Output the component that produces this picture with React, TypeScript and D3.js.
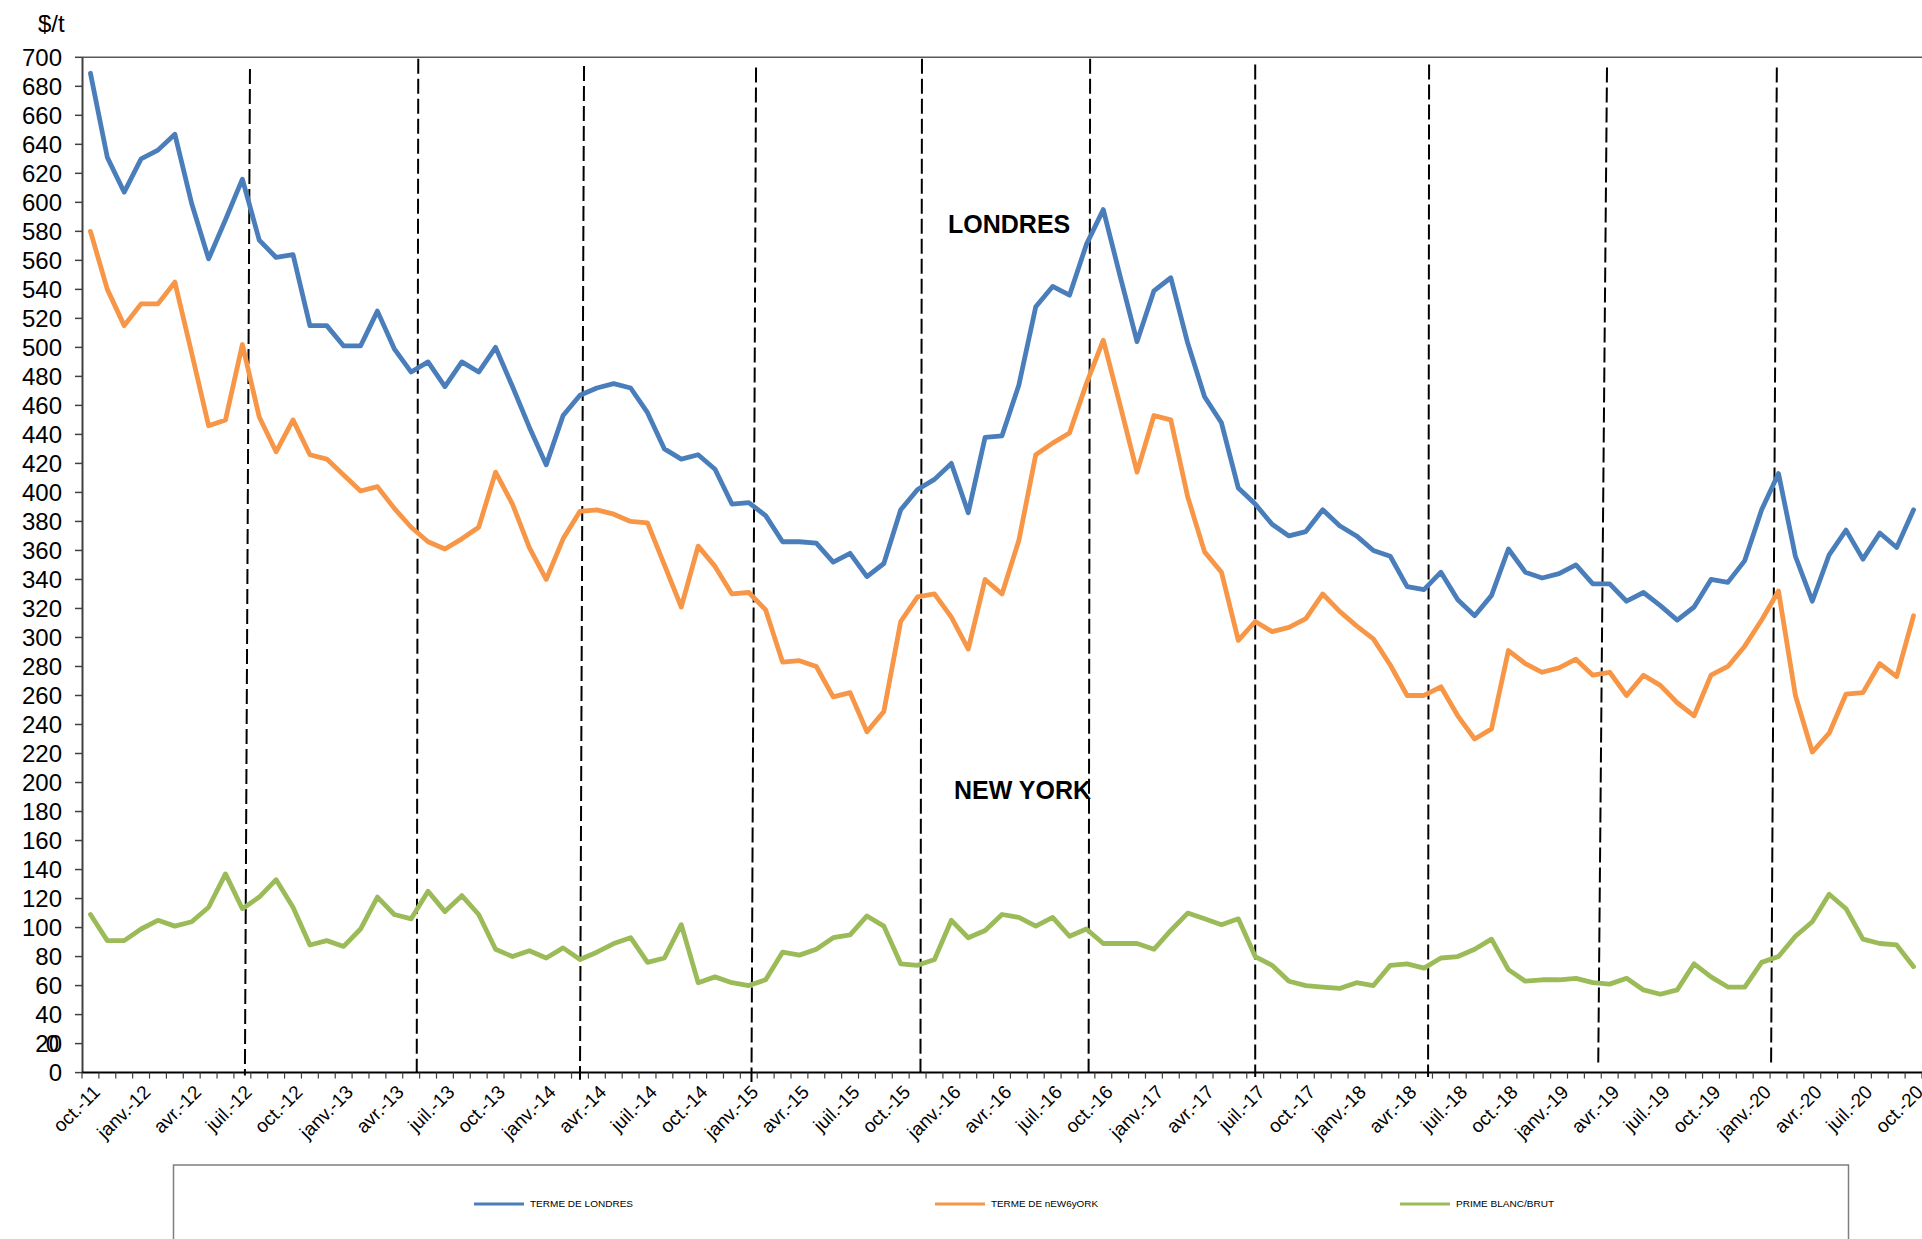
import React, { useEffect } from 'react';
import * as d3 from 'd3';

// ---------- DATA ----------
const monthNames = ['oct.', 'nov.', 'déc.', 'janv.', 'févr.', 'mars', 'avr.', 'mai', 'juin', 'juil.', 'août', 'sept.'];
const startYear = 11;
const monthCount = 109; // oct.-11 .. oct.-20
const categories: string[] = Array.from({ length: monthCount }, (_, i) => {
  const m = monthNames[i % 12];
  const yr = startYear + Math.floor((i + 9) / 12);
  return `${m}-${yr}`;
});

const tickLabels = [
  'oct.-11', 'janv.-12', 'avr.-12', 'juil.-12', 'oct.-12', 'janv.-13', 'avr.-13', 'juil.-13',
  'oct.-13', 'janv.-14', 'avr.-14', 'juil.-14', 'oct.-14', 'janv.-15', 'avr.-15', 'juil.-15',
  'oct.-15', 'janv.-16', 'avr.-16', 'juil.-16', 'oct.-16', 'janv.-17', 'avr.-17', 'juil.-17',
  'oct.-17', 'janv.-18', 'avr.-18', 'juil.-18', 'oct.-18', 'janv.-19', 'avr.-19', 'juil.-19',
  'oct.-19', 'janv.-20', 'avr.-20', 'juil.-20', 'oct.-20',
];

const yTicks = [0, 20, 40, 60, 80, 100, 120, 140, 160, 180, 200, 220, 240, 260, 280, 300, 320, 340,
  360, 380, 400, 420, 440, 460, 480, 500, 520, 540, 560, 580, 600, 620, 640, 660, 680, 700];

const londres = [
  689, 631, 607, 630, 636, 647, 599, 561, 588, 616, 574, 562, 564, 515, 515, 501, 501, 525, 499, 483,
  490, 473, 490, 483, 500, 473, 445, 419, 453, 467, 472, 475, 472, 455, 430, 423, 426, 416, 392, 393,
  384, 366, 366, 365, 352, 358, 342, 351, 388, 402, 409, 420, 386, 438, 439, 474, 528, 542, 536, 571,
  595, 549, 504, 539, 548, 503, 466, 448, 403, 392, 378, 370, 373, 388, 377, 370, 360, 356, 335, 333,
  345, 326, 315, 329, 361, 345, 341, 344, 350, 337, 337, 325, 331, 322, 312, 321, 340, 338, 353, 388,
  413, 356, 325, 357, 374, 354, 372, 362, 388,
];

const newYork = [
  580, 540, 515, 530, 530, 545, 496, 446, 450, 502, 452, 428, 450, 426, 423, 412, 401, 404, 389, 376,
  366, 361, 368, 376, 414, 392, 362, 340, 368, 387, 388, 385, 380, 379, 350, 321, 363, 349, 330, 331,
  319, 283, 284, 280, 259, 262, 235, 249, 311, 328, 330, 314, 292, 340, 330, 367, 426, 434, 441, 475,
  505, 460, 414, 453, 450, 397, 359, 345, 298, 311, 304, 307, 313, 330, 318, 308, 299, 281, 260, 260,
  266, 246, 230, 237, 291, 282, 276, 279, 285, 274, 276, 260, 274, 267, 255, 246, 274, 280, 294, 312,
  332, 260, 221, 234, 261, 262, 282, 273, 315,
];

const prime = [
  109, 91, 91, 99, 105, 101, 104, 114, 137, 113, 121, 133, 114, 88, 91, 87, 99, 121, 109, 106,
  125, 111, 122, 109, 85, 80, 84, 79, 86, 78, 83, 89, 93, 76, 79, 102, 62, 66, 62, 60,
  64, 83, 81, 85, 93, 95, 108, 101, 75, 74, 78, 105, 93, 98, 109, 107, 101, 107, 94, 99,
  89, 89, 89, 85, 98, 110, 106, 102, 106, 80, 74, 63, 60, 59, 58, 62, 60, 74, 75, 72,
  79, 80, 85, 92, 71, 63, 64, 64, 65, 62, 61, 65, 57, 54, 57, 75, 66, 59, 59, 76,
  80, 94, 104, 123, 113, 92, 89, 88, 73,
];

// hand-drawn dashed separators: category position (top / bottom) and value (top / bottom)
const separators = [
  { iTop: 9.45, iBot: 9.15, vTop: 692, vBot: -2 },
  { iTop: 19.42, iBot: 19.33, vTop: 699, vBot: 0 },
  { iTop: 29.24, iBot: 29.0, vTop: 694, vBot: -5 },
  { iTop: 39.43, iBot: 39.16, vTop: 693, vBot: -6.5 },
  { iTop: 49.26, iBot: 49.17, vTop: 699, vBot: 0 },
  { iTop: 59.22, iBot: 59.13, vTop: 699, vBot: 0 },
  { iTop: 69.0, iBot: 69.0, vTop: 695, vBot: -3 },
  { iTop: 79.3, iBot: 79.24, vTop: 695, vBot: -3 },
  { iTop: 89.84, iBot: 89.32, vTop: 693, vBot: 4.5 },
  { iTop: 99.9, iBot: 99.56, vTop: 693, vBot: 4.5 },
];

const seriesNames = ['TERME DE LONDRES', 'TERME DE nEW6yORK', 'PRIME BLANC/BRUT'];
const seriesColors = ['#4A7EBB', '#F79646', '#9BBB59'];
const seriesData = [londres, newYork, prime];

// ---------- CHART ----------
const W = 1922;
const H = 1239;
const FONT = 'Arial, "Liberation Sans", Helvetica, sans-serif';

export default function App() {
  useEffect(() => {
    document.body.style.margin = '0';
    document.body.style.overflow = 'hidden';
  }, []);

  const x = d3.scaleLinear().domain([-0.5, categories.length - 0.5]).range([82, 1922]);
  const y = d3.scaleLinear().domain([0, 700]).range([1072.6, 57.3]);
  const line = d3.line<number>().x((_, i) => x(i)).y((d) => y(d));

  const x0 = x(-0.5);
  const y0 = y(0);

  const legendX = [474, 935, 1400];
  const legendTextLen = [103, 107, 98];

  return (
    <svg width={W} height={H} style={{ position: 'absolute', left: 0, top: 0, background: '#fff' }}
      fontFamily={FONT}>
      <rect x={0} y={0} width={W} height={H} fill="#fff" />
      {/* top border */}
      <line x1={x0} x2={W} y1={y(700)} y2={y(700)} stroke="#595959" strokeWidth={1.5} />

      {/* y axis */}
      <line x1={x0 + 0.5} x2={x0 + 0.5} y1={y(700)} y2={y0} stroke="#404040" strokeWidth={2} />
      {yTicks.map((t) => (
        <g key={t}>
          <line x1={x0 - 7} x2={x0} y1={y(t)} y2={y(t)} stroke="#404040" strokeWidth={1.5} />
          <text x={62} y={y(t)} textAnchor="end" dominantBaseline="central" fontSize={24} fill="#000">
            {t}
          </text>
        </g>
      ))}
      <text x={59} y={y(20)} textAnchor="end" dominantBaseline="central" fontSize={24} fill="#000">0</text>
      <text x={38} y={32} fontSize={24} fill="#000">$/t</text>

      {/* x axis */}
      <line x1={x0} x2={W} y1={y0} y2={y0} stroke="#000" strokeWidth={2} />
      {d3.range(categories.length + 1).map((k) => (
        <line key={k} x1={x(k - 0.5)} x2={x(k - 0.5)} y1={y0} y2={y0 + 6} stroke="#404040" strokeWidth={1.2} />
      ))}
      {tickLabels.map((lab, k) => {
        const idx = categories.indexOf(lab);
        return (
          <text key={lab} transform={`translate(${x(idx) + 1},${y0 + 11}) rotate(-45)`} textAnchor="end"
            dy="0.72em" fontSize={19} fill="#000">
            {lab}
          </text>
        );
      })}

      {/* separators */}
      {separators.map((s, k) => (
        <line key={k} x1={x(s.iTop)} x2={x(s.iBot)} y1={y(s.vTop)} y2={y(s.vBot)} stroke="#000"
          strokeWidth={2} strokeDasharray="15 5" />
      ))}

      {/* series */}
      {seriesData.map((d, k) => (
        <path key={k} d={line(d) || ''} fill="none" stroke={seriesColors[k]} strokeWidth={4.8}
          strokeLinejoin="round" strokeLinecap="round" />
      ))}

      {/* annotations */}
      <text x={948} y={233} fontSize={25} fontWeight="bold" fill="#000">LONDRES</text>
      <text x={954} y={799} fontSize={25} fontWeight="bold" fill="#000">NEW YORK</text>

      {/* legend */}
      <rect x={173.5} y={1165} width={1675} height={120} fill="none" stroke="#7f7f7f" strokeWidth={1.5} />
      {seriesNames.map((n, k) => (
        <g key={n}>
          <line x1={legendX[k]} x2={legendX[k] + 50} y1={1204} y2={1204} stroke={seriesColors[k]} strokeWidth={3} />
          <text x={legendX[k] + 56} y={1204} dominantBaseline="central" fontSize={9} fill="#000"
            textLength={legendTextLen[k]} lengthAdjust="spacingAndGlyphs">
            {n}
          </text>
        </g>
      ))}
    </svg>
  );
}
